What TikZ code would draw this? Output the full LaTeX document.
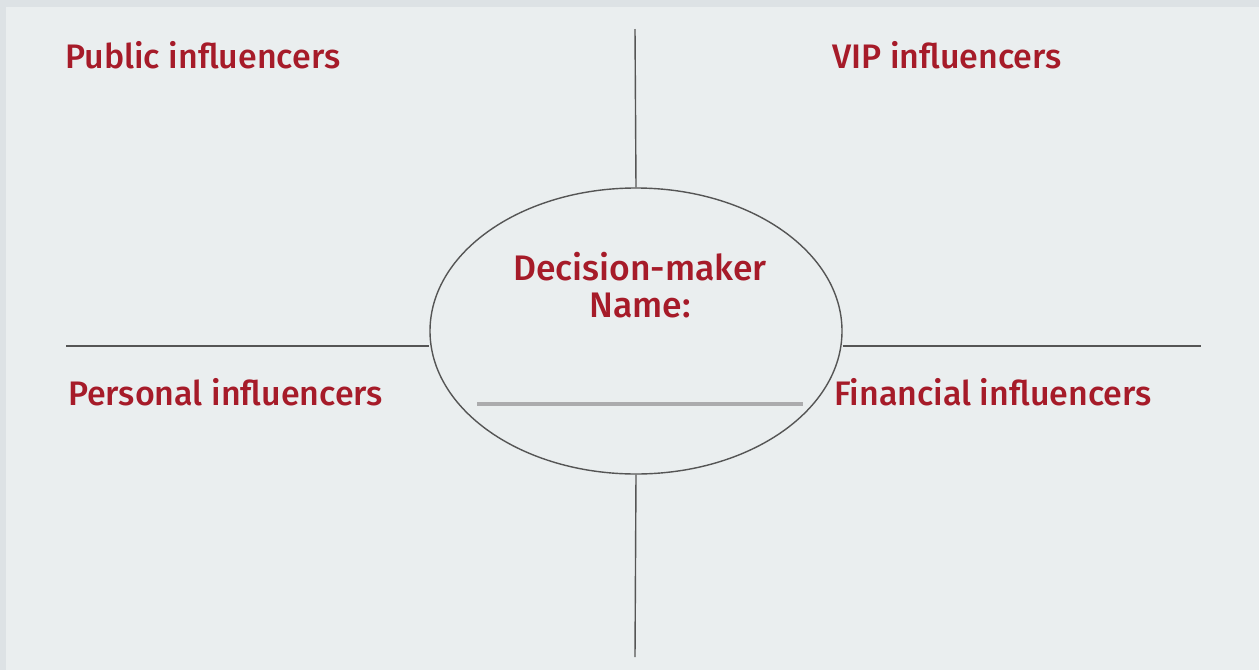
\documentclass[tikz,border=0pt]{standalone}
\usepackage{fontspec}
\setmainfont{Fira Sans Medium}
\usetikzlibrary{shapes.geometric}
\definecolor{outerbg}{HTML}{DDE2E5}
\definecolor{innerbg}{HTML}{EAEEEF}
\definecolor{redtxt}{HTML}{A61B29}
\definecolor{linegray}{HTML}{555555}
\definecolor{ulgray}{HTML}{ABABAD}
\tikzset{
  lbl/.style={text=redtxt, font=\fontsize{34}{40}\selectfont, inner sep=0pt},
  ctr/.style={text=redtxt, font=\fontsize{35.5}{40}\selectfont, inner sep=0pt},
  axis/.style={draw=linegray, line width=1.4pt},
}
\begin{document}
\begin{tikzpicture}[x=1pt,y=-1pt]
\fill[outerbg] (0,0) rectangle (1259,670);
\fill[innerbg] (6,7) rectangle (1259,670);
\useasboundingbox (0,0) rectangle (1259,670);
\node[draw=linegray, line width=1.4pt, ellipse, minimum width=412pt, minimum height=286pt, inner sep=0pt] (ell) at (636,331) {};
\coordinate (top) at (635,29);
\coordinate (bot) at (635,657);
\coordinate (lft) at (66,346);
\coordinate (rgt) at (1201,346);
\draw[axis] (top) -- (ell.north);
\draw[axis] (ell.south) -- (bot);
\draw[axis] (lft) -- (lft -| ell.west);
\draw[axis] (rgt -| ell.east) -- (rgt);
\node[lbl, anchor=base west] (pub) at (65,68) {Public influencers};
\node[lbl, anchor=base] (vip) at (947,68) {VIP influencers};
\node[lbl, anchor=base west] (per) at (68,405) {Personal influencers};
\node[lbl, anchor=base west] (fin) at (834,405) {Financial influencers};
\node[ctr, anchor=base] (dm) at (640,280) {Decision-maker};
\node[ctr, anchor=base] (nm) at (640,317) {Name:};
\coordinate (ula) at (477,404);
\coordinate (ulb) at (803,404);
\draw[ulgray, line width=4pt] (ula) -- (ulb);
\end{tikzpicture}
\end{document}
